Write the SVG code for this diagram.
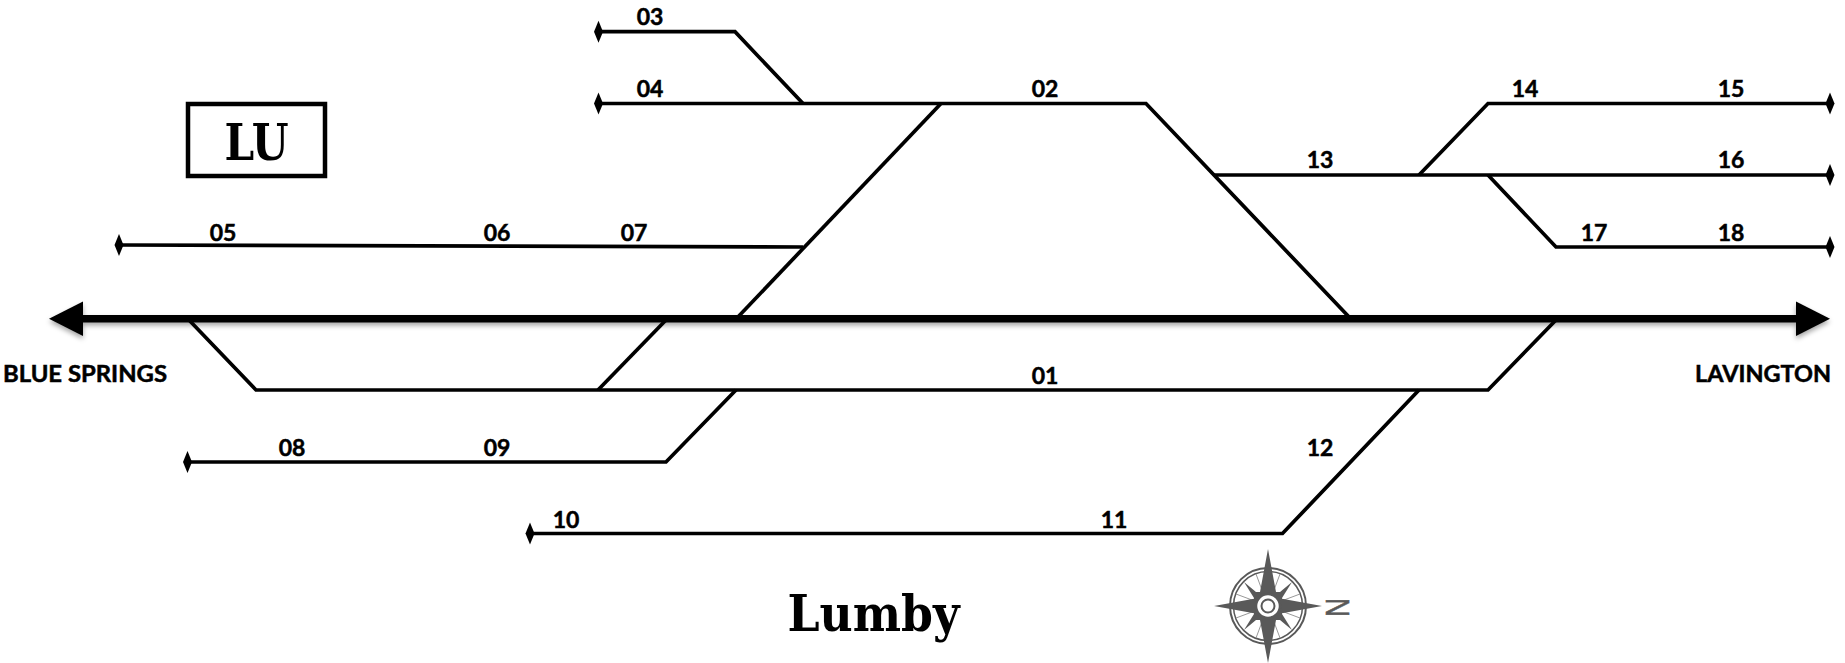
<svg xmlns="http://www.w3.org/2000/svg" width="1845" height="663" viewBox="0 0 1845 663">
<defs>
<style>
.t{fill:none;stroke:#000;stroke-width:3.7;stroke-linejoin:miter}
.l{font-family:"Lato","Liberation Sans",sans-serif;font-weight:700;font-size:23px;fill:#000;stroke:#000;stroke-width:.5px;text-anchor:middle}
.s{font-family:"DejaVu Serif","Liberation Serif",serif;font-weight:700;font-stretch:condensed;fill:#000;text-anchor:middle}
.c{fill:#595959}
.r{fill:none;stroke:#595959}
</style>
<polygon id="d" points="0,-11 4.5,0 0,11 -4.5,0"/>
<filter id="sh" x="-2%" y="-100%" width="104%" height="300%"><feDropShadow dx="0" dy="3" stdDeviation="2.5" flood-color="#000" flood-opacity=".35"/></filter>
</defs>
<g id="connectors">
<path class="t" d="M598 31.700H735L803 103.500"/>
<path class="t" d="M598 103.500H1146L1350 318"/>
<path class="t" d="M941 103.500L737 318"/>
<path class="t" d="M118 245L803 247"/>
<path class="t" d="M1214 175H1829"/>
<path class="t" d="M1419 175L1488 103.500H1829"/>
<path class="t" d="M1488 175L1556 247H1829"/>
<path class="t" d="M189 320L256 390H1488L1556 320"/>
<path class="t" d="M666 320L598 390"/>
<path class="t" d="M187 462H666L736 390"/>
<path class="t" d="M530 533.500H1282.500L1419 390"/>
<g filter="url(#sh)"><path d="M83 315H1796V322.500H83Z"/><polygon points="49,318.700 83,301.500 83,336"/><polygon points="1830,318.700 1796,301.500 1796,336"/></g>
<use href="#d" x="598.500" y="31.700"/><use href="#d" x="598.500" y="103.500"/><use href="#d" x="119" y="245"/><use href="#d" x="187.500" y="462"/><use href="#d" x="530" y="533.500"/>
<use href="#d" x="1830" y="103.500"/><use href="#d" x="1830" y="175"/><use href="#d" x="1830" y="247"/>
</g>
<g id="station-box"><rect x="188" y="104" width="137" height="72" fill="#fff" stroke="#000" stroke-width="4.500"/><text class="s" x="256.500" y="160" font-size="50" textLength="64" lengthAdjust="spacingAndGlyphs">LU</text></g>
<g id="labels">
<text class="l" x="650" y="25">03</text><text class="l" x="650" y="97">04</text><text class="l" x="1045" y="97">02</text>
<text class="l" x="1525" y="97">14</text><text class="l" x="1731" y="97">15</text>
<text class="l" x="1320" y="168">13</text><text class="l" x="1731" y="168">16</text>
<text class="l" x="1594" y="241">17</text><text class="l" x="1731" y="241">18</text>
<text class="l" x="223" y="241">05</text><text class="l" x="497" y="241">06</text><text class="l" x="634" y="241">07</text>
<text class="l" x="1045" y="384">01</text><text class="l" x="292" y="456">08</text><text class="l" x="497" y="456">09</text>
<text class="l" x="1320" y="456">12</text><text class="l" x="566" y="528">10</text><text class="l" x="1114" y="528">11</text>
<text class="l" x="85" y="382" textLength="164" lengthAdjust="spacingAndGlyphs">BLUE SPRINGS</text>
<text class="l" x="1763" y="382" textLength="136" lengthAdjust="spacingAndGlyphs">LAVINGTON</text>
<text class="s" x="873.500" y="631" font-size="50" textLength="172" lengthAdjust="spacingAndGlyphs">Lumby</text>
</g>
<g id="compass" transform="translate(1268 606)">
<circle class="r" r="38" stroke-width="2"/><circle class="r" r="34.500" stroke-width="1.500"/>
<g stroke="#999" stroke-width="1"><path d="M12 -32L6 -16M-12 -32L-6 -16M12 32L6 16M-12 32L-6 16M32 -12L16 -6M-32 -12L-16 -6M32 12L16 6M-32 12L-16 6"/></g>
<polygon class="c" points="0,-57 8,-14 12,-14 24,-24 14,-8 14,8 24,24 12,14 8,14 0,57 -8,14 -12,14 -24,24 -14,8 -14,-8 -24,-24 -12,-14 -8,-14"/>
<polygon class="c" points="-54,0 -10,-8 10,-8 54,0 10,8 -10,8"/>
<circle r="12" fill="#fff" stroke="#595959" stroke-width="2.500"/><circle r="6.500" fill="#fff" stroke="#595959" stroke-width="2"/>
<text x="0" y="0" transform="translate(68.500 1.500) rotate(-90)" style="font-family:'Liberation Sans',sans-serif;font-size:34px;fill:#595959;stroke:#595959;stroke-width:.6px" text-anchor="middle" dominant-baseline="central" textLength="19" lengthAdjust="spacingAndGlyphs">N</text>
</g>
</svg>
